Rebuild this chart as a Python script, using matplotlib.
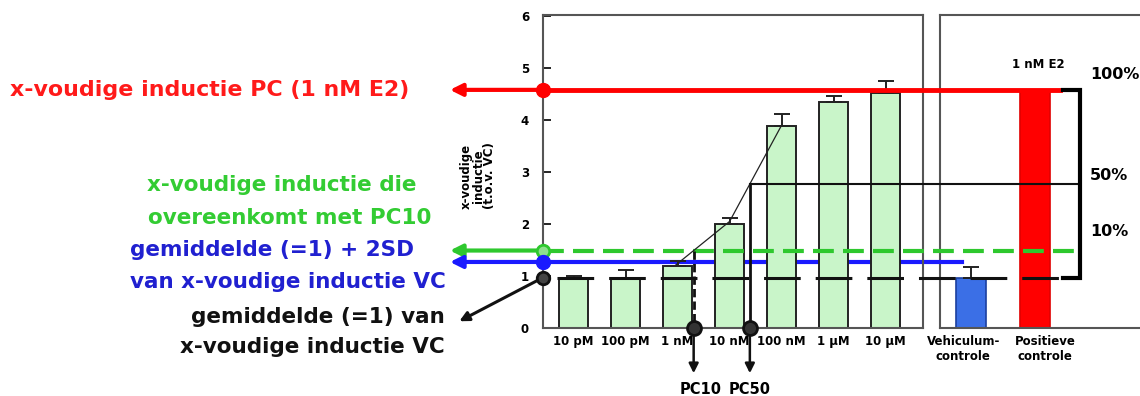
import numpy as np
import matplotlib.pyplot as plt

plt.rcParams['font.family'] = 'DejaVu Sans'
plt.rcParams['font.weight'] = 'bold'

# data
concentrations = ["10 pM", "100 pM", "1 nM", "10 nM", "100 nM", "1 µM", "10 µM"]
induction = [0.97, 0.97, 1.19, 2.00, 3.88, 4.35, 4.52]
induction_err = [0.03, 0.15, 0.10, 0.12, 0.24, 0.11, 0.23]

controls = ["Vehiculum-\ncontrole", "Positieve\ncontrole"]
control_values = [0.96, 4.58]
control_err = [0.22, 0.0]

vc_mean = 0.97      # gemiddelde (=1) VC
vc_2sd = 1.27       # gemiddelde + 2SD
pc_level = 4.58     # PC (1 nM E2) = 100%
pc10_level = 1.49   # 10%
pc50_level = 2.77   # 50%

fit_x = [1.95, 3.0, 4.0]
fit_y = [1.20, 2.05, 3.90]

pc10_x = np.interp(pc10_level, fit_y, fit_x)
pc50_x = np.interp(pc50_level, fit_y, fit_x)

W, H = 1140, 396
fig = plt.figure(figsize=(W / 100, H / 100), dpi=100)

ax = fig.add_axes([543 / W, 1 - 328 / H, 380 / W, 313 / H])
axr = fig.add_axes([940 / W, 1 - 328 / H, 220 / W, 313 / H])
ax.set_zorder(3)
ax.patch.set_visible(False)

x = np.arange(len(concentrations))
ax.bar(x, induction, width=0.56, color='#c9f5c9', edgecolor='#222222', linewidth=1.4, zorder=2)
ax.errorbar(x, induction, yerr=[np.zeros(len(x)), induction_err], fmt='none',
            ecolor='#222222', elinewidth=1.4, capsize=6, capthick=1.4, zorder=2)
ax.set_xlim(-0.59, 6.72)
ax.set_ylim(0, 6.02)
ax.set_xticks(x, concentrations, fontsize=8.5, fontweight='bold')
ax.set_yticks(range(7))
ax.tick_params(axis='x', length=0, pad=5)
ax.tick_params(axis='y', direction='in', length=6, width=1.2, pad=10, labelsize=8.5)
for s in ax.spines.values():
    s.set_color('#555555')
    s.set_linewidth(1.5)

axr.bar([0, 1], control_values, width=0.46, color=['#3b6fe6', '#ff0000'],
        edgecolor=['#1b3fa0', '#e00000'], linewidth=1.2)
axr.errorbar([0], control_values[:1], yerr=[[0], control_err[:1]], fmt='none',
             ecolor='#222222', elinewidth=1.4, capsize=6, capthick=1.4)
axr.set_xlim(-0.484, 2.95)
axr.set_ylim(0, 6.02)
axr.set_yticks([])
# labels sit a little off the bar centres in the reference
axr.set_xticks([-0.12, 1.16], controls, fontsize=8.5, fontweight='bold')
axr.tick_params(axis='x', length=0, pad=5)
for s in axr.spines.values():
    s.set_color('#555555')
    s.set_linewidth(1.5)

# reference levels
ax.plot([-0.59, 7.47], [vc_2sd, vc_2sd], color='#1a1aff', lw=3, zorder=1, clip_on=False)
ax.plot([-0.59, 9.36], [pc_level, pc_level], color='#ff0000', lw=3.5, zorder=4, clip_on=False)
ax.plot([-0.59, 9.68], [pc10_level, pc10_level], color='#2ec82e', lw=3, dashes=(5, 2.2),
        zorder=4, clip_on=False)
ax.plot([-0.317, 9.39], [vc_mean, vc_mean], color='#111111', lw=2.2, dashes=(12, 4.9),
        zorder=4, clip_on=False)
ax.plot([pc50_x, 9.68], [pc50_level, pc50_level], color='#111111', lw=1.5, zorder=4, clip_on=False)
ax.plot(fit_x, fit_y, color='#222222', lw=0.9, zorder=4)

for lvl, col in [(pc_level, '#ff0000'), (pc10_level, '#2ec82e'), (vc_2sd, '#1a1aff')]:
    ax.annotate('', xy=(-2.38, lvl), xytext=(-0.59, lvl), annotation_clip=False,
                arrowprops=dict(arrowstyle='-|>', color=col, lw=3, mutation_scale=18,
                                shrinkA=0, shrinkB=0))
ax.annotate('', xy=(-2.2, 0.13), xytext=(-0.59, vc_mean), annotation_clip=False,
            arrowprops=dict(arrowstyle='-|>', color='#111111', lw=2.2, mutation_scale=14,
                            shrinkA=4, shrinkB=0))

ax.plot(-0.59, pc_level, 'o', ms=10, color='#ff0000', zorder=5, clip_on=False)
ax.plot(-0.59, pc10_level, 'o', ms=9, mfc='#8ee08e', mec='#2ec82e', mew=2, zorder=5, clip_on=False)
ax.plot(-0.59, vc_2sd, 'o', ms=10, color='#1a1aff', zorder=5, clip_on=False)
ax.plot(-0.59, vc_mean, 'o', ms=9, mfc='#444444', mec='#111111', mew=2, zorder=5, clip_on=False)

# PC10 / PC50 drop lines
ax.plot([pc10_x, pc10_x], [pc10_level, 0], color='#111111', lw=2, dashes=(3, 1.5), zorder=4)
ax.plot([pc50_x, pc50_x], [pc50_level, 0], color='#111111', lw=2, zorder=4)
for px in [pc10_x, pc50_x]:
    ax.annotate('', xy=(px, -0.87), xytext=(px, 0), annotation_clip=False,
                arrowprops=dict(arrowstyle='-|>', color='#111111', lw=1.8, mutation_scale=14,
                                shrinkA=0, shrinkB=0))
    ax.plot(px, 0, 'o', ms=10, mfc='#333333', mec='#111111', mew=2, zorder=5, clip_on=False)
ax.text(pc10_x + 0.13, -1.19, 'PC10', fontsize=10.5, ha='center', va='center', clip_on=False)
ax.text(pc50_x, -1.19, 'PC50', fontsize=10.5, ha='center', va='center', clip_on=False)

# bracket with percentages
ax.plot([9.41, 9.74, 9.74, 9.41], [pc_level, pc_level, vc_mean, vc_mean], color='black', lw=3,
        clip_on=False, solid_joinstyle='miter', zorder=4)
ax.text(9.93, 4.87, '100%', fontsize=11.5, ha='left', va='center', clip_on=False)
ax.text(9.93, 2.94, '50%', fontsize=11.5, ha='left', va='center', clip_on=False)
ax.text(9.93, 1.85, '10%', fontsize=11.5, ha='left', va='center', clip_on=False)
axr.text(1.05, 5.06, '1 nM E2', fontsize=8.5, ha='center', va='center')

fig.text(478 / W, 1 - 176 / H, 'x-voudige\ninductie\n(t.o.v. VC)', rotation=90, fontsize=8.5,
         ha='center', va='center', linespacing=0.88, multialignment='center')

# left-hand labels
fs = 15.5
fig.text(10 / W, 1 - 90 / H, 'x-voudige inductie PC (1 nM E2)', color='#ff1a1a', fontsize=15.9, ha='left', va='center')
fig.text(147 / W, 1 - 185 / H, 'x-voudige inductie die', color='#33cc33', fontsize=fs, ha='left', va='center')
fig.text(148 / W, 1 - 218 / H, 'overeenkomt met PC10', color='#33cc33', fontsize=fs, ha='left', va='center')
fig.text(130 / W, 1 - 250 / H, 'gemiddelde (=1) + 2SD', color='#2020d0', fontsize=fs, ha='left', va='center')
fig.text(130 / W, 1 - 282 / H, 'van x-voudige inductie VC', color='#2020d0', fontsize=fs, ha='left', va='center')
fig.text(445 / W, 1 - 317 / H, 'gemiddelde (=1) van', color='#111111', fontsize=fs, ha='right', va='center')
fig.text(445 / W, 1 - 347 / H, 'x-voudige inductie VC', color='#111111', fontsize=fs, ha='right', va='center')

fig.savefig('out.png', dpi=100)
